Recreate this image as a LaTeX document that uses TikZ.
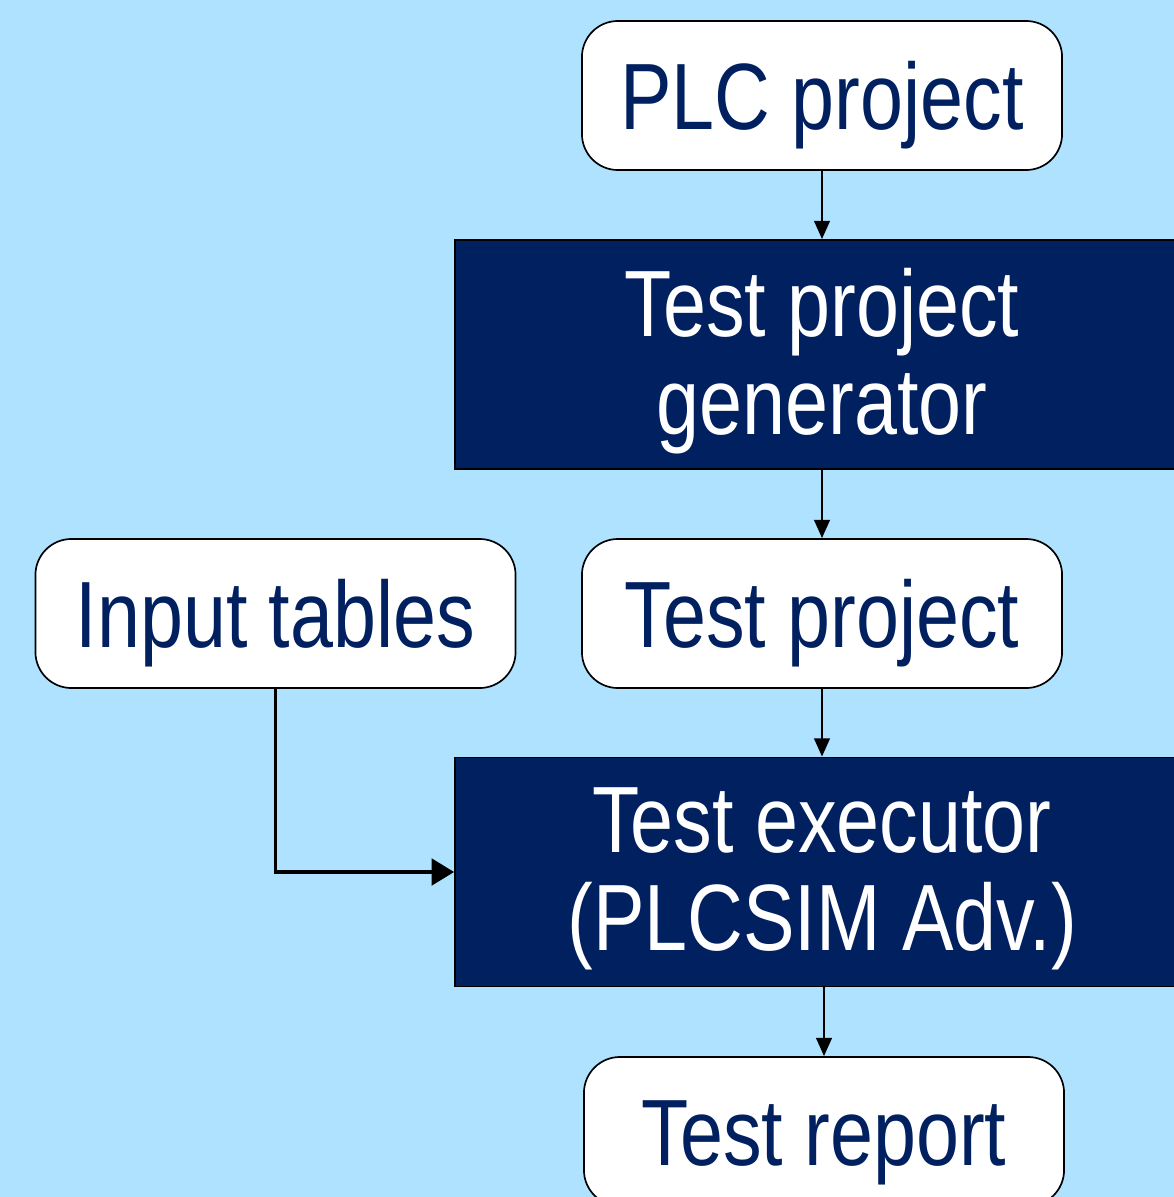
\documentclass[tikz,border=0pt]{standalone}
\usepackage{fontspec}
\setmainfont{Liberation Sans}[FakeStretch=0.82]
\usetikzlibrary{positioning,arrows.meta}

\definecolor{skyblue}{RGB}{174,226,255}
\definecolor{navy}{RGB}{0,32,96}

\begin{document}
\begin{tikzpicture}[
  x=0.025cm, y=-0.025cm,
  font=\fontsize{67}{69.5}\selectfont,
  doc/.style={rectangle,rounded corners=0.9cm,draw=black,line width=1.2pt,fill=white,text=navy,minimum width=12cm,minimum height=3.725cm,inner sep=0pt,text height=62pt,text depth=14pt},
  tool/.style={rectangle,draw=black,line width=1.2pt,fill=navy,text=white,minimum width=18.35cm,minimum height=5.725cm,align=center,inner sep=0pt,text depth=4pt},
  arrow/.style={-{Triangle[length=13pt,width=11pt]},line width=2pt},
  bigarrow/.style={-{Triangle[length=16pt,width=19pt]},line width=2.2pt}
]
\useasboundingbox (0,0) rectangle (1174,1197);
\clip (0,0) rectangle (1174,1197);
\fill[skyblue] (0,0) rectangle (1174,1197);

\node[doc] (plc) at (822,95.5) {PLC project};
\node[tool] (gen) at (822,354.5) {Test project\\generator};
\node[doc] (inp) at (275.5,613.5) {Input tables};
\node[doc] (proj) at (822,613.5) {Test project};
\node[tool] (exec) at (822,872) {Test executor\\(PLCSIM Adv.)};
\node[doc] (rep) at (824,1131.5) {Test report};

\draw[arrow] (plc) -- (gen);
\draw[arrow] (gen) -- (proj);
\draw[arrow] (proj) -- (exec);
\draw[arrow] (exec.south -| rep.north) -- (rep);
\draw[bigarrow] (inp.south) |- (exec.west);
\end{tikzpicture}
\end{document}
